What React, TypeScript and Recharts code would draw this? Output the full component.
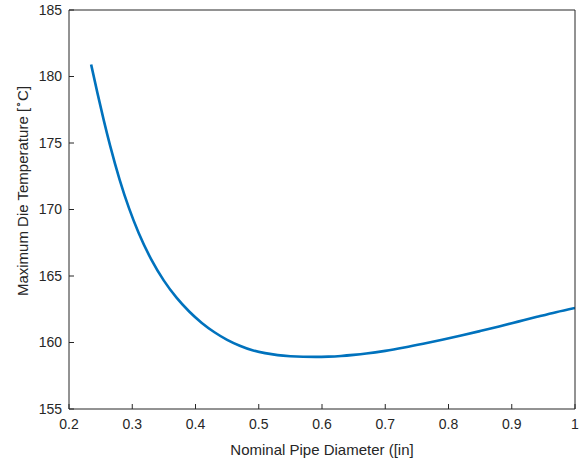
import React from 'react';
import { LineChart, Line, XAxis, YAxis, Label } from 'recharts';

const diameters = [0.235, 0.245, 0.255, 0.265, 0.28, 0.295, 0.31, 0.33, 0.35, 0.37, 0.39, 0.41, 0.43, 0.45, 0.47, 0.49, 0.51, 0.53, 0.55, 0.57, 0.59, 0.61, 0.63, 0.65, 0.67, 0.7, 0.73, 0.76, 0.79, 0.82, 0.85, 0.88, 0.91, 0.94, 0.97, 1.0];
const temperatures = [180.9, 178.75, 176.7, 174.8, 172.25, 170.08, 168.25, 166.25, 164.65, 163.37, 162.33, 161.47, 160.77, 160.2, 159.76, 159.42, 159.2, 159.05, 158.97, 158.93, 158.92, 158.94, 158.99, 159.07, 159.17, 159.37, 159.62, 159.9, 160.2, 160.52, 160.86, 161.21, 161.57, 161.93, 162.28, 162.6];

const xTicks = [0.2, 0.3, 0.4, 0.5, 0.6, 0.7, 0.8, 0.9, 1];
const yTicks = [155, 160, 165, 170, 175, 180, 185];

const data = diameters.map((d, i) => ({ d, t: temperatures[i] }));

const AX = '#262626';
const FONT = '"Liberation Sans", Arial, Helvetica, sans-serif';
const tickStyle = { fill: AX, fontSize: 14, fontFamily: FONT };
const fmtX = (v: number) => String(+v.toFixed(1));

export default function App() {
  return (
    <div style={{ position: 'absolute', left: 0, top: 0, background: '#fff' }}>
      <LineChart width={587} height={464} data={data} margin={{ top: 9, right: 11, bottom: 0, left: 0 }}>
        <XAxis
          xAxisId="b"
          dataKey="d"
          type="number"
          domain={[0.2, 1]}
          ticks={xTicks}
          tickFormatter={fmtX}
          allowDataOverflow
          height={55}
          tickSize={-5}
          tickMargin={15}
          stroke={AX}
          tick={tickStyle}
          tickLine={{ stroke: AX }}
          axisLine={{ stroke: AX }}
          interval={0}
        >
          <Label
            content={(props: any) => {
              const vb = props.viewBox || { x: 69, width: 506 };
              return (
                <text x={vb.x + vb.width / 2} y={455} textAnchor="middle" fill={AX} fontSize={15} fontFamily={FONT}>
                  Nominal Pipe Diameter ([in]
                </text>
              );
            }}
          />
        </XAxis>
        <XAxis
          xAxisId="top"
          dataKey="d"
          orientation="top"
          type="number"
          domain={[0.2, 1]}
          ticks={xTicks}
          allowDataOverflow
          height={1}
          tickSize={-5}
          tick={false}
          stroke={AX}
          tickLine={{ stroke: AX }}
          axisLine={{ stroke: AX }}
          interval={0}
        />
        <YAxis
          yAxisId="l"
          type="number"
          domain={[155, 185]}
          ticks={yTicks}
          allowDataOverflow
          width={69}
          tickSize={-5}
          tickMargin={12}
          stroke={AX}
          tick={tickStyle}
          tickLine={{ stroke: AX }}
          axisLine={{ stroke: AX }}
          interval={0}
        >
          <Label
            content={() => (
              <text x={28} y={191} transform="rotate(-90 28 191)" textAnchor="middle" fill={AX} fontSize={15} fontFamily={FONT}>
                Maximum Die Temperature [
                <tspan dy={-6} fontSize={11}>∘</tspan>
                <tspan dy={6}>C]</tspan>
              </text>
            )}
          />
        </YAxis>
        <YAxis
          yAxisId="r"
          orientation="right"
          type="number"
          domain={[155, 185]}
          ticks={yTicks}
          allowDataOverflow
          width={1}
          tickSize={-5}
          tick={false}
          stroke={AX}
          tickLine={{ stroke: AX }}
          axisLine={{ stroke: AX }}
          interval={0}
        />
        <Line
          xAxisId="top"
          yAxisId="r"
          dataKey="t"
          stroke="none"
          strokeWidth={0}
          dot={false}
          activeDot={false}
          isAnimationActive={false}
        />
        <Line
          xAxisId="b"
          yAxisId="l"
          dataKey="t"
          type="monotone"
          stroke="#0072BD"
          strokeWidth={2.6}
          dot={false}
          isAnimationActive={false}
        />
      </LineChart>
    </div>
  );
}
